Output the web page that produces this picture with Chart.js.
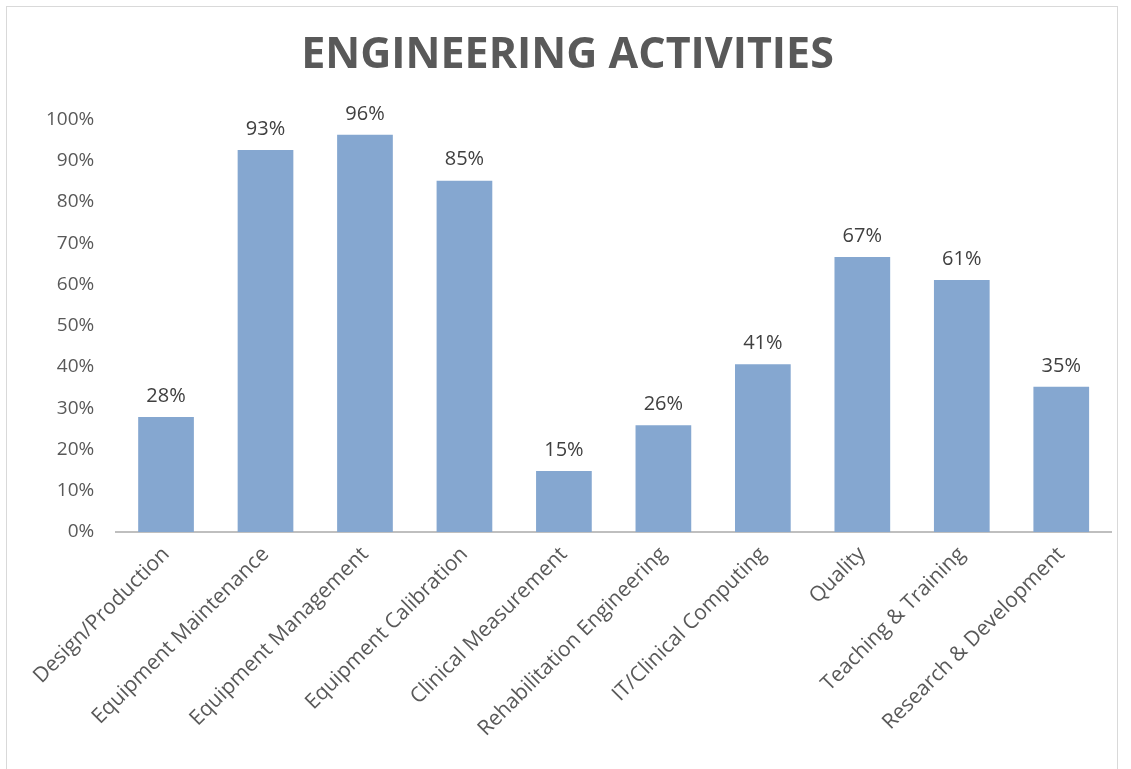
<!DOCTYPE html>
<html lang="en">
<head>
    <meta charset="UTF-8">
    <title>Engineering Activities</title>
    <script src="https://cdn.jsdelivr.net/npm/chart.js"></script>
    <style>
        body {
            margin: 0;
            background: #ffffff;
        }

        #frame {
            position: absolute;
            left: 6px;
            top: 6px;
            width: 1112px;
            height: 800px;
            border: 1px solid #d9d9d9;
            box-sizing: border-box;
        }

        #chart-container {
            position: absolute;
            left: 0;
            top: 0;
            width: 1131px;
            height: 769px;
        }
    </style>
</head>
<body>
    <div id="frame"></div>
    <div id="chart-container">
        <canvas id="activityChart"></canvas>
    </div>

    <script>
        // chart data
        var categories = ['Design/Production', 'Equipment Maintenance', 'Equipment Management',
            'Equipment Calibration', 'Clinical Measurement', 'Rehabilitation Engineering',
            'IT/Clinical Computing', 'Quality', 'Teaching & Training', 'Research & Development'];
        var percentages = [27.9, 92.6, 96.3, 85.2, 14.8, 25.9, 40.7, 66.7, 61.1, 35.2];
        var yTicks = [0, 10, 20, 30, 40, 50, 60, 70, 80, 90, 100];

        // draws the value above each bar
        var valueLabels = {
            id: 'valueLabels',
            afterDatasetsDraw: function (chart) {
                var ctx = chart.ctx;
                var meta = chart.getDatasetMeta(0);
                ctx.save();
                ctx.font = '20px "Open Sans"';
                ctx.fillStyle = '#404040';
                ctx.textAlign = 'center';
                ctx.textBaseline = 'bottom';
                meta.data.forEach(function (bar, i) {
                    ctx.fillText(Math.round(percentages[i]) + '%', bar.x, bar.y - 11);
                });
                ctx.restore();
            }
        };

        var ctx = document.getElementById('activityChart').getContext('2d');
        var activityChart = new Chart(ctx, {
            type: 'bar',
            data: {
                labels: categories,
                datasets: [{
                    label: 'Engineering Activities',
                    data: percentages,
                    backgroundColor: '#85a7d0',
                    borderWidth: 0,
                    categoryPercentage: 1.0,
                    barPercentage: 0.56
                }]
            },
            options: {
                responsive: true,
                maintainAspectRatio: false,
                animation: false,
                layout: {
                    padding: { left: 24, right: 20, top: 20, bottom: 6 }
                },
                plugins: {
                    legend: { display: false },
                    tooltip: { enabled: false },
                    title: {
                        display: true,
                        text: 'ENGINEERING ACTIVITIES',
                        color: '#595959',
                        font: { family: 'Open Sans', size: 43, weight: 'bold' },
                        padding: { top: 10, bottom: 38 }
                    }
                },
                scales: {
                    x: {
                        grid: { display: false, drawTicks: false },
                        border: { display: true, color: '#bfbfbf', width: 2 },
                        ticks: {
                            color: '#595959',
                            font: { family: 'Open Sans', size: 21 },
                            maxRotation: 45,
                            minRotation: 45,
                            padding: 10
                        },
                        // keep the label band the same height as in the original
                        afterFit: function (scale) {
                            scale.height = 231;
                        }
                    },
                    y: {
                        min: 0,
                        max: 100,
                        afterBuildTicks: function (axis) {
                            axis.ticks = yTicks.map(function (v) { return { value: v }; });
                        },
                        grid: { display: false, drawTicks: false },
                        border: { display: false },
                        ticks: {
                            color: '#595959',
                            font: { family: 'Open Sans', size: 19 },
                            padding: 22,
                            callback: function (v) { return v + '%'; }
                        }
                    }
                }
            },
            plugins: [valueLabels]
        });
    </script>
</body>
</html>
